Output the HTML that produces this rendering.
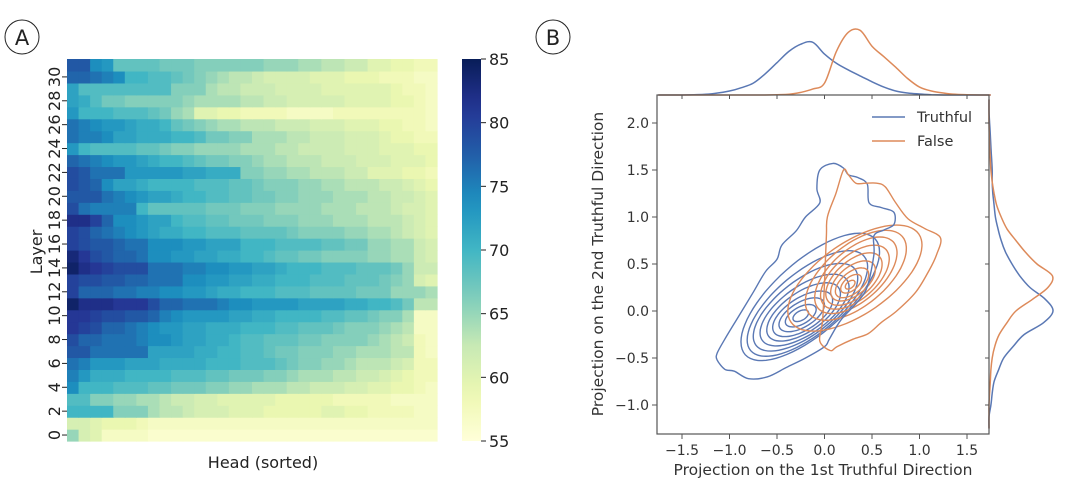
<!DOCTYPE html>
<html><head><meta charset="utf-8">
<style>
body{margin:0;background:#fff;}
svg{display:block;font-family:"DejaVu Sans","Liberation Sans",sans-serif;}
</style></head>
<body>
<svg id="fig" width="1080" height="496" viewBox="0 0 1080 496">
  <g>
    <circle cx="22" cy="37" r="17" fill="none" stroke="#222" stroke-width="1"/>
    <text x="22" y="45" text-anchor="middle" font-size="21" fill="#222">A</text>
  </g>
  <g>
    <circle cx="553" cy="37" r="17" fill="none" stroke="#222" stroke-width="1"/>
    <text x="553" y="45" text-anchor="middle" font-size="21" fill="#222">B</text>
  </g>
  <g id="heat"></g>
  <g id="cbar"></g>
  <text x="263" y="468" text-anchor="middle" font-size="16" fill="#222">Head (sorted)</text>
  <text transform="translate(42,252) rotate(-90)" text-anchor="middle" font-size="16" fill="#222">Layer</text>
  <g id="kde"></g>
</svg>
<script>
// ---------- Panel A data ----------
const layerTicks = [0,2,4,6,8,10,12,14,16,18,20,22,24,26,28,30];
const cbarTicks = [55,60,65,70,75,80,85];
// rows listed from layer 0 upward; each row = 32 sorted heads
const heatRows = [
[65,61,60,57,57,57,57,56,56,56,56,56,56,56,56,56,56,56,56,56,56,56,56,56,56,56,56,56,56,56,56,56],
[61,61,60,59,59,59,58,57,57,57,57,57,57,57,57,57,57,57,57,57,57,57,57,57,57,57,57,57,57,57,57,57],
[70,70,70,70,66,66,66,64,63,63,62,61,61,61,60,60,60,59,59,59,59,59,60,60,59,59,58,58,58,58,57,57],
[69,69,66,66,65,65,64,64,63,62,62,61,61,60,60,60,60,60,59,59,59,59,59,58,58,58,58,58,57,57,57,57],
[74,70,70,70,69,69,69,68,68,67,67,67,66,66,65,65,64,64,64,63,63,62,62,62,61,61,60,60,59,59,58,57],
[75,73,71,71,71,70,70,70,70,69,69,69,68,68,67,67,67,66,66,65,64,64,64,63,63,62,62,61,60,59,58,58],
[76,75,73,73,73,72,72,72,71,71,71,71,70,70,70,69,69,69,68,67,66,66,65,65,64,63,63,63,62,61,58,58],
[78,78,76,76,76,76,76,72,72,72,72,71,71,70,70,69,69,68,67,67,66,66,66,65,65,64,64,64,63,63,58,57],
[79,77,77,76,76,76,75,74,74,73,72,72,71,71,70,69,69,68,68,68,67,67,66,66,66,66,65,64,63,62,58,57],
[81,80,79,77,77,76,75,74,73,73,72,72,71,71,71,70,70,70,69,69,68,68,68,67,66,66,66,65,64,63,57,57],
[81,81,80,79,79,78,78,77,75,74,73,73,73,73,72,72,71,71,70,70,70,70,69,69,68,68,67,66,66,64,57,57],
[84,82,82,82,81,81,81,79,77,77,76,76,76,75,74,74,73,73,73,73,72,72,72,72,71,71,70,70,69,67,63,63],
[80,77,77,77,76,76,75,75,74,74,73,73,72,71,71,70,70,70,69,69,69,68,68,68,68,67,67,67,65,65,65,64],
[80,79,79,78,78,77,77,76,76,76,74,74,73,73,72,72,71,71,70,70,70,69,69,69,68,68,68,67,66,65,61,60],
[84,82,81,80,79,79,79,76,76,76,75,75,74,74,73,73,72,72,71,70,70,70,69,69,69,68,68,68,67,65,62,62],
[83,81,79,78,77,77,76,74,74,73,73,72,72,71,71,70,70,69,68,68,67,67,66,66,66,66,65,65,64,64,62,61],
[80,79,78,78,77,76,76,74,74,74,73,73,72,72,72,70,70,70,69,69,69,69,68,68,67,67,65,65,64,64,62,61],
[80,79,77,76,75,74,73,72,71,71,70,70,69,69,69,68,68,68,68,67,66,66,66,66,65,65,64,64,63,62,61,60],
[82,82,80,77,74,74,73,72,72,70,69,69,68,68,67,67,67,66,66,66,65,65,65,64,64,64,63,63,63,62,61,60],
[79,76,75,75,75,75,70,68,68,68,68,68,67,67,67,66,66,66,65,65,65,65,64,64,64,63,63,63,62,61,61,60],
[78,78,78,76,75,74,73,72,72,71,70,70,69,69,68,68,67,67,66,66,65,65,65,64,64,64,63,63,62,62,61,60],
[79,78,77,74,72,72,71,70,70,70,70,69,69,69,68,68,67,66,66,66,65,65,64,64,63,63,63,62,62,61,60,59],
[79,78,76,76,76,73,73,73,73,73,72,72,71,71,71,66,66,65,65,64,64,63,63,63,62,62,60,60,60,59,59,58],
[77,76,75,74,73,73,72,71,70,70,69,68,67,67,66,66,65,64,64,63,63,63,62,62,62,61,61,61,60,60,60,59],
[73,70,69,69,69,69,68,68,67,66,66,65,65,65,65,64,64,64,63,63,62,62,62,62,61,61,61,60,60,60,59,59],
[76,75,75,74,72,72,71,71,71,70,70,69,67,67,66,66,64,64,64,63,63,62,62,62,61,61,61,60,59,59,58,58],
[76,75,74,73,73,72,71,71,70,68,67,66,65,64,64,63,63,63,62,62,62,61,61,61,60,60,60,59,59,58,58,57],
[73,70,70,70,69,69,69,68,67,65,64,60,60,59,59,58,58,58,58,57,57,57,57,58,58,58,58,58,58,58,58,57],
[72,71,69,67,67,66,66,66,66,66,65,64,64,64,64,63,63,62,62,61,61,61,61,61,60,60,60,60,59,59,58,57],
[72,69,69,69,69,69,69,69,69,66,66,66,64,63,63,62,62,62,61,61,61,61,60,60,60,60,60,60,59,58,58,57],
[77,77,76,75,74,70,70,69,69,68,67,66,65,64,63,63,62,61,61,61,61,60,60,60,59,59,59,58,58,58,57,57],
[78,78,74,73,68,68,68,68,67,67,67,66,66,66,66,66,66,65,65,65,64,64,63,63,62,62,60,60,59,59,58,58]
];

// ---------- Panel B data ----------
const xTicks = [-1.5,-1.0,-0.5,0.0,0.5,1.0,1.5];
const yTicks = [-1.0,-0.5,0.0,0.5,1.0,1.5,2.0];
const margX = [-1.75,-1.625,-1.5,-1.375,-1.25,-1.125,-1.0,-0.875,-0.75,-0.625,-0.5,-0.375,-0.25,-0.125,0,0.125,0.25,0.375,0.5,0.625,0.75,0.875,1.0,1.125,1.25,1.375,1.5,1.625,1.75];
const margXTruthful = [0,0,0,0.005,0.01,0.03,0.06,0.11,0.18,0.32,0.49,0.66,0.77,0.8,0.62,0.48,0.38,0.29,0.2,0.12,0.06,0.03,0.015,0.005,0,0,0,0,0];
const margXFalse = [0,0,0,0,0,0,0,0,0,0,0.005,0.01,0.04,0.09,0.18,0.66,0.95,0.98,0.74,0.58,0.42,0.25,0.12,0.06,0.03,0.01,0.005,0,0];
const margY = [-1.25,-1.125,-1.0,-0.875,-0.75,-0.625,-0.5,-0.375,-0.25,-0.125,0,0.125,0.25,0.375,0.5,0.625,0.75,0.875,1.0,1.125,1.25,1.375,1.5,1.625,1.75,1.875,2.0,2.125,2.25];
const margYTruthful = [0,0,0.03,0.05,0.08,0.15,0.23,0.38,0.55,0.85,1.0,0.88,0.64,0.48,0.36,0.26,0.19,0.14,0.1,0.08,0.06,0.05,0.05,0.04,0.03,0.02,0.01,0,0];
const margYFalse = [0,0,0,0.01,0.02,0.03,0.05,0.09,0.16,0.28,0.42,0.68,0.92,0.99,0.75,0.57,0.42,0.28,0.19,0.12,0.08,0.05,0.03,0.02,0.01,0.005,0,0,0];
const truthfulOuter = [[-1.13,-0.52],[-1.05,-0.62],[-0.95,-0.64],[-0.8,-0.72],[-0.6,-0.7],[-0.4,-0.6],[-0.2,-0.5],[-0.0,-0.38],[0.05,-0.3],[0.17,-0.1],[0.35,0.1],[0.45,0.26],[0.52,0.6],[0.52,0.8],[0.62,0.86],[0.73,0.92],[0.73,1.05],[0.6,1.1],[0.47,1.15],[0.45,1.35],[0.35,1.42],[0.25,1.45],[0.2,1.52],[0.09,1.57],[-0.05,1.5],[-0.08,1.3],[-0.05,1.15],[-0.2,1.0],[-0.3,0.85],[-0.45,0.7],[-0.5,0.55],[-0.62,0.42],[-0.75,0.2],[-0.9,-0.05],[-1.05,-0.3],[-1.13,-0.45]];
const falseOuter = [[0.06,-0.42],[-0.05,-0.32],[-0.02,-0.1],[0.0,0.3],[0.02,0.8],[0.03,1.0],[0.12,1.25],[0.2,1.5],[0.25,1.45],[0.33,1.36],[0.43,1.36],[0.55,1.36],[0.64,1.32],[0.75,1.15],[0.88,0.98],[1.05,0.88],[1.22,0.78],[1.18,0.6],[1.1,0.43],[0.96,0.2],[0.76,0.0],[0.6,-0.12],[0.46,-0.24],[0.3,-0.3],[0.13,-0.38]];
const truthfulRings = [[-0.15,0.15,0.92,0.38,42],[-0.18,0.08,0.78,0.33,40],[-0.2,0.04,0.66,0.29,38],[-0.21,0.01,0.55,0.25,36],[-0.22,-0.01,0.45,0.21,35],[-0.23,-0.03,0.36,0.17,33],[-0.24,-0.04,0.27,0.13,32],[-0.25,-0.05,0.18,0.09,30],[-0.25,-0.05,0.09,0.05,30]];
const falseRings = [[0.32,0.35,0.82,0.38,35],[0.33,0.38,0.64,0.32,40],[0.33,0.38,0.53,0.27,42],[0.32,0.36,0.44,0.23,42],[0.31,0.34,0.36,0.19,42],[0.30,0.32,0.28,0.15,40],[0.29,0.30,0.21,0.11,40],[0.28,0.29,0.13,0.07,40],[0.27,0.28,0.06,0.035,40]];

const NS = "http://www.w3.org/2000/svg";
function mk(tag, attrs, parent){ const e=document.createElementNS(NS,tag); for(const k in attrs) e.setAttribute(k,attrs[k]); parent.appendChild(e); return e; }

const cmStops = ["#ffffd9","#edf8b1","#c7e9b4","#7fcdbb","#41b6c4","#1d91c0","#225ea8","#253494","#081d58"];
function hex(h){return [parseInt(h.substr(1,2),16),parseInt(h.substr(3,2),16),parseInt(h.substr(5,2),16)];}
function cmap(v){
  let t=(v-55)/30; t=Math.max(0,Math.min(1,t));
  const p=t*(cmStops.length-1); const i=Math.min(Math.floor(p),cmStops.length-2); const f=p-i;
  const a=hex(cmStops[i]), b=hex(cmStops[i+1]);
  return "rgb("+a.map((c,k)=>Math.round(c+(b[k]-c)*f)).join(",")+")";
}

// ---------- Panel A ----------
const HX0=67, HX1=437, HY0=59, HY1=441;
const heat=document.getElementById('heat');
const nCols=heatRows[0].length, nRows=heatRows.length;
const cw=(HX1-HX0)/nCols, ch=(HY1-HY0)/nRows;
function rowY(layer){ return HY1-(layer+1)*ch; }
heatRows.forEach((row,li)=>{
  row.forEach((v,ci)=>{
    const r=mk('rect',{x:(HX0+ci*cw).toFixed(2),y:rowY(li).toFixed(2),width:(cw+0.6).toFixed(2),height:(ch+0.6).toFixed(2),fill:cmap(v)},heat);
    
    
  });
});
layerTicks.forEach(L=>{
  const y=rowY(L)+ch/2;
  const tk=mk('line',{x1:HX0-5,x2:HX0,y1:y,y2:y,stroke:'#222','stroke-width':1},heat);
  
  
  const t=mk('text',{transform:`translate(${HX0-7},${y}) rotate(-90)`,'text-anchor':'middle','font-size':16,fill:'#222'},heat);
  t.textContent=L;
  
  
});
const cbar=document.getElementById('cbar');
const CX0=462, CX1=481;
const grad=mk('linearGradient',{id:'cg',x1:0,y1:1,x2:0,y2:0},mk('defs',{},cbar));
for(let i=0;i<=20;i++){ mk('stop',{offset:i/20,'stop-color':cmap(55+30*i/20)},grad); }
const cb=mk('rect',{x:CX0,y:HY0,width:CX1-CX0,height:HY1-HY0,fill:'url(#cg)'},cbar);


cbarTicks.forEach(v=>{
  const y=HY1-(v-55)/30*(HY1-HY0);
  mk('line',{x1:CX1,x2:CX1+5,y1:y,y2:y,stroke:'#222','stroke-width':1},cbar);
  const t=mk('text',{x:CX1+8,y:y+6,'font-size':16,fill:'#222'},cbar);
  t.textContent=v;
  
  
});

// ---------- Panel B ----------
const kde=document.getElementById('kde');
const AX0=657, AX1=989, AY0=95, AY1=434;
const sx=v=>824.5+v*95, sy=v=>311-v*94;
const BLUE="#5a78b4", ORANGE="#dd8a5a";
function smoothPath(pts){
  let d=`M${pts[0][0].toFixed(1)},${pts[0][1].toFixed(1)}`;
  for(let i=0;i<pts.length-1;i++){
    const p0=pts[Math.max(0,i-1)],p1=pts[i],p2=pts[i+1],p3=pts[Math.min(pts.length-1,i+2)];
    const c1=[p1[0]+(p2[0]-p0[0])/6,p1[1]+(p2[1]-p0[1])/6], c2=[p2[0]-(p3[0]-p1[0])/6,p2[1]-(p3[1]-p1[1])/6];
    d+=`C${c1[0].toFixed(1)},${c1[1].toFixed(1)} ${c2[0].toFixed(1)},${c2[1].toFixed(1)} ${p2[0].toFixed(1)},${p2[1].toFixed(1)}`;
  }
  return d;
}
function closedSmooth(pts){
  const n=pts.length; let d=`M${pts[0][0].toFixed(1)},${pts[0][1].toFixed(1)}`;
  for(let i=0;i<n;i++){
    const p0=pts[(i-1+n)%n],p1=pts[i],p2=pts[(i+1)%n],p3=pts[(i+2)%n];
    const c1=[p1[0]+(p2[0]-p0[0])/6,p1[1]+(p2[1]-p0[1])/6], c2=[p2[0]-(p3[0]-p1[0])/6,p2[1]-(p3[1]-p1[1])/6];
    d+=`C${c1[0].toFixed(1)},${c1[1].toFixed(1)} ${c2[0].toFixed(1)},${c2[1].toFixed(1)} ${p2[0].toFixed(1)},${p2[1].toFixed(1)}`;
  }
  return d+'Z';
}
const topScale=66, rightScale=64;
[[margXTruthful,BLUE,'top-marginal-truthful'],[margXFalse,ORANGE,'top-marginal-false']].forEach(([arr,c,n])=>{
  const pts=margX.map((x,i)=>[sx(x),AY0-arr[i]*topScale]);
  const p=mk('path',{d:smoothPath(pts),fill:'none',stroke:c,'stroke-width':1.5},kde);
  
  
});
[[margYTruthful,BLUE,'right-marginal-truthful'],[margYFalse,ORANGE,'right-marginal-false']].forEach(([arr,c,n])=>{
  const pts=margY.map((y,i)=>[AX1+arr[i]*rightScale,sy(y)]);
  const p=mk('path',{d:smoothPath(pts),fill:'none',stroke:c,'stroke-width':1.5},kde);
  
  
});
const cont=mk('g',{},kde);


function drawRings(rings,c,n){
  rings.forEach(r=>{
    const [cx,cy,a,b,ang]=r; const th=ang*Math.PI/180; const pts=[];
    for(let k=0;k<36;k++){ const t=k/36*2*Math.PI; const ex=a*Math.cos(t), ey=b*Math.sin(t);
      pts.push([sx(cx+ex*Math.cos(th)-ey*Math.sin(th)), sy(cy+ex*Math.sin(th)+ey*Math.cos(th))]); }
    const p=mk('path',{d:closedSmooth(pts),fill:'none',stroke:c,'stroke-width':1.4},cont);
    
    
  });
}
drawRings(truthfulRings,BLUE,'contour-truthful');
drawRings(falseRings,ORANGE,'contour-false');
[[truthfulOuter,BLUE,'contour-truthful-outer'],[falseOuter,ORANGE,'contour-false-outer']].forEach(([arr,c,n])=>{
  const p=mk('path',{d:closedSmooth(arr.map(q=>[sx(q[0]),sy(q[1])])),fill:'none',stroke:c,'stroke-width':1.4},cont);
  
  
});
const fr=mk('rect',{x:AX0,y:AY0,width:AX1-AX0,height:AY1-AY0,fill:'none',stroke:'#555','stroke-width':1.2},kde);


xTicks.forEach(v=>{
  const x=sx(v);
  mk('line',{x1:x,x2:x,y1:AY1,y2:AY1+5,stroke:'#555'},kde);
  mk('line',{x1:x,x2:x,y1:AY0,y2:AY0+4,stroke:'#555'},kde);
  const t=mk('text',{x:x,y:AY1+21,'text-anchor':'middle','font-size':14,fill:'#333'},kde);
  t.textContent=(v<0?'\u2212':'')+Math.abs(v).toFixed(1);
  
  
});
yTicks.forEach(v=>{
  const y=sy(v);
  mk('line',{x1:AX0-5,x2:AX0,y1:y,y2:y,stroke:'#555'},kde);
  mk('line',{x1:AX1-4,x2:AX1,y1:y,y2:y,stroke:'#555'},kde);
  const t=mk('text',{x:AX0-8,y:y+5,'text-anchor':'end','font-size':14,fill:'#333'},kde);
  t.textContent=(v<0?'\u2212':'')+Math.abs(v).toFixed(1);
  
  
});
const xl=mk('text',{x:823,y:475,'text-anchor':'middle','font-size':15.5,fill:'#333'},kde);
xl.textContent='Projection on the 1st Truthful Direction';


const yl=mk('text',{transform:'translate(603,264) rotate(-90)','text-anchor':'middle','font-size':15.5,fill:'#333'},kde);
yl.textContent='Projection on the 2nd Truthful Direction';


[[BLUE,'Truthful',117],[ORANGE,'False',141]].forEach(([c,lab,y])=>{
  const g=mk('g',{},kde);
  
  
  mk('line',{x1:872,x2:905,y1:y,y2:y,stroke:c,'stroke-width':1.5},g);
  const t=mk('text',{x:917,y:y+5,'font-size':14.5,fill:'#333'},g);
  t.textContent=lab;
});
</script>
</body></html>
